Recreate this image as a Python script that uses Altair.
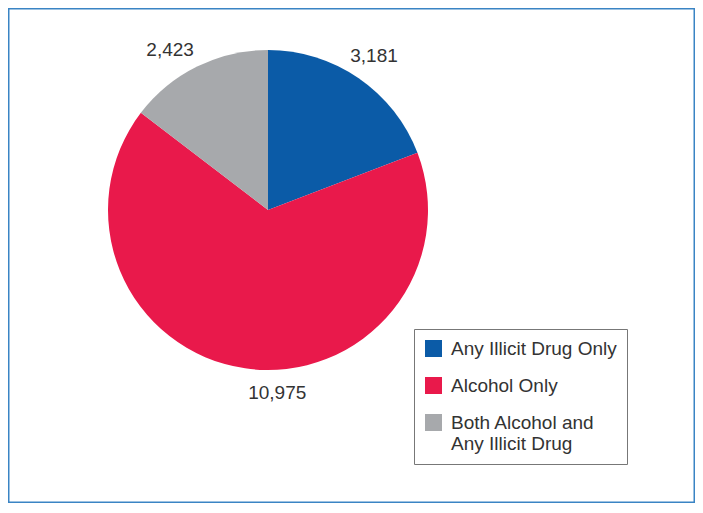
import altair as alt
import pandas as pd

categories = ["Any Illicit Drug Only", "Alcohol Only", "Both Alcohol and Any Illicit Drug"]
values = [3181, 10975, 2423]
value_labels = ["3,181", "10,975", "2,423"]
order_idx = [0, 1, 2]
colors = ["#0b5ba7", "#e9194b", "#a7a9ac"]

df = pd.DataFrame({"category": categories, "value": values,
                   "label": value_labels, "idx": order_idx})

FONT = "Liberation Sans"
CX, CY, R = 260, 202, 160

color_enc = alt.Color(
    "category:N",
    scale=alt.Scale(domain=categories, range=colors),
    legend=alt.Legend(
        title=None, orient="none", legendX=406, legendY=321,
        symbolType="square", symbolSize=289, symbolStrokeWidth=0,
        labelFont=FONT, labelFontSize=19, labelColor="#333333",
        labelLimit=300, rowPadding=17, padding=10, labelOffset=8,
        strokeColor="#777777", fillColor="white",
        labelExpr="datum.label == 'Both Alcohol and Any Illicit Drug' ? ['Both Alcohol and', 'Any Illicit Drug'] : datum.label",
    ),
)

base = alt.Chart(df).encode(
    theta=alt.Theta("value:Q", stack=True),
    order=alt.Order("idx:Q"),
)

pie = base.mark_arc(outerRadius=R, stroke=None).encode(
    color=color_enc,
    x=alt.value(CX), y=alt.value(CY),
)

# label nudges (styling), one per slice index
nudges = {0: (0, 0), 1: (36, -2), 2: (-15, 8)}

layers = [pie]
for i, (ddx, ddy) in nudges.items():
    layers.append(
        base.mark_text(radius=187, font=FONT, fontSize=19, color="#333333",
                       dx=ddx, dy=ddy).encode(
            text=alt.condition(f"datum.idx == {i}", "label:N", alt.value("")),
            x=alt.value(CX), y=alt.value(CY),
        )
    )

chart = alt.layer(*layers).properties(
    width=687, height=495, padding=0,
    autosize=alt.AutoSizeParams(type="none"),
    background="white",
).configure_view(stroke="#3a84c4", strokeWidth=3)

chart.save("out.html", embed_options={"renderer": "svg", "actions": False})
